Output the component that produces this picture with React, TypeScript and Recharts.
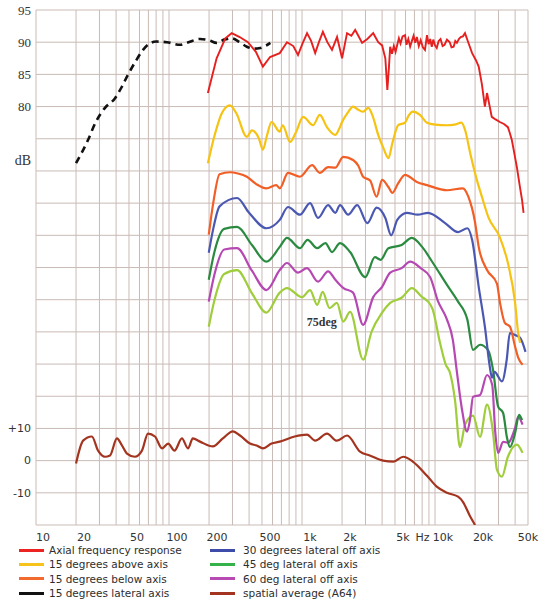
import { LineChart, Line, XAxis, YAxis, CartesianGrid, Legend, ReferenceDot } from 'recharts';

type Pt = [number, number]; // [Hz, dB]

const axial: Pt[] = [
  [196, 82.1], [228, 87.5], [265, 90.6], [296, 91.4], [340, 90.8], [392, 90.0], [450, 88.5],
  [508, 86.2], [575, 87.7], [680, 88.3], [771, 90.0], [860, 89.4], [933, 88.0], [1010, 89.8],
  [1091, 91.4], [1170, 90.2], [1256, 88.3], [1340, 90.0], [1435, 91.6], [1550, 90.0], [1680, 88.8],
  [1834, 90.8], [2000, 87.5], [2180, 91.4], [2350, 91.0], [2510, 91.9], [2650, 91.0], [2830, 89.9],
  [3100, 90.5], [3430, 91.4], [3740, 90.0], [4000, 89.5], [4230, 87.5], [4380, 82.6], [4500, 86.0],
  [4600, 89.3], [4750, 88.2], [4900, 89.4], [5050, 88.5], [5200, 89.6], [5350, 90.6], [5500, 89.8],
  [5700, 90.9], [5950, 91.1], [6100, 89.6], [6300, 90.5], [6500, 89.3], [6700, 90.2], [6900, 91.0],
  [7100, 89.9], [7300, 90.8], [7550, 89.4], [7800, 90.3], [8100, 89.2], [8400, 88.8], [8700, 91.1],
  [8950, 89.7], [9200, 90.5], [9450, 89.3], [9700, 90.4], [10000, 89.5], [10300, 89.1], [10650, 90.2],
  [11000, 90.5], [11400, 89.4], [11800, 89.6], [12300, 90.4], [12900, 90.0], [13300, 89.2],
  [13800, 89.3], [14200, 90.2], [14600, 89.9], [15100, 90.5], [15600, 90.8], [16200, 90.9],
  [16800, 91.4], [17900, 89.8], [19000, 88.3], [20300, 87.2], [21300, 86.2], [22500, 83.5],
  [23700, 80.0], [24600, 82.1], [26700, 78.4], [28500, 78.0], [30700, 77.6], [33000, 77.3],
  [35300, 76.8], [36500, 75.9], [37800, 74.8], [39000, 73.3], [41300, 70.5], [43500, 67.5],
  [45100, 65.5], [46300, 63.5],
];

const above15: Pt[] = [
  [196, 71.2], [220, 75.5], [250, 79.0], [287, 80.2], [320, 79.0], [385, 75.3], [420, 76.3],
  [440, 76.1], [475, 75.0], [508, 73.3], [545, 75.5], [590, 77.6], [680, 76.1], [715, 77.1],
  [814, 74.5], [900, 76.0], [1020, 78.4], [1210, 77.1], [1360, 78.7], [1540, 76.8], [1780, 75.6],
  [1900, 76.5], [2000, 77.6], [2200, 79.0], [2420, 80.0], [2650, 79.5], [2880, 79.2], [3150, 79.8],
  [3400, 78.5], [3740, 75.6], [4100, 73.5], [4460, 72.0], [4800, 74.5], [5290, 77.1], [5950, 77.5],
  [6300, 78.5], [6800, 79.2], [7700, 78.7], [8700, 77.5], [10000, 77.2], [12300, 77.1],
  [14000, 77.2], [15800, 77.5], [16800, 76.4], [18500, 72.5], [20500, 68.8], [22500, 66.0],
  [25300, 62.7], [30700, 59.7], [35300, 55.7], [40000, 49.5], [42200, 44.8], [43600, 43.3],
];

const below15: Pt[] = [
  [199, 60.1], [215, 65.0], [240, 69.5], [287, 69.8], [330, 69.6], [385, 69.1], [450, 68.0],
  [540, 67.3], [640, 67.8], [680, 67.3], [785, 69.7], [965, 69.1], [1190, 70.9], [1360, 69.7],
  [1570, 70.6], [1780, 70.5], [2040, 72.2], [2420, 71.7], [2650, 70.8], [2880, 69.1], [3250, 68.5],
  [3640, 66.0], [4000, 68.6], [4460, 67.5], [4780, 66.6], [5290, 68.1], [5950, 69.4], [7300, 68.3],
  [8700, 67.8], [12300, 67.0], [16200, 67.3], [17800, 66.0], [20000, 62.0], [21300, 58.2],
  [24600, 54.6], [29200, 52.5], [30800, 49.5], [33500, 46.4], [36600, 45.8], [40000, 42.7],
  [42200, 41.0], [45500, 39.9],
];

const lateral15: Pt[] = [
  [20, 71.2], [24.6, 74.8], [28, 77.5], [33, 79.8], [39.3, 81.3], [44, 83.0], [49, 84.9],
  [56, 87.0], [63.8, 88.8], [69.5, 89.6], [80, 90.1], [96.6, 90.0], [121, 89.6], [140, 90.0],
  [171, 90.5], [200, 90.3], [228, 89.9], [260, 90.4], [296, 90.6], [340, 90.0], [385, 89.3],
  [430, 89.0], [485, 89.1], [578, 89.9],
];

const off30: Pt[] = [
  [199, 57.3], [215, 61.0], [240, 64.5], [325, 65.8], [400, 63.5], [540, 61.1], [680, 62.4],
  [785, 64.4], [965, 63.2], [1150, 65.0], [1320, 62.7], [1570, 64.7], [1780, 63.5], [1930, 64.7],
  [2220, 63.2], [2600, 64.7], [3100, 61.9], [3640, 64.3], [4230, 62.7], [4680, 60.0], [5200, 62.4],
  [6140, 63.5], [7400, 63.2], [8870, 63.5], [11900, 61.9], [14900, 60.5], [17500, 61.1],
  [19000, 59.3], [21300, 52.0], [23700, 45.8], [25800, 39.6], [26800, 37.9], [28000, 38.8],
  [31800, 37.3], [34600, 40.7], [36500, 44.8], [40000, 44.5], [43600, 44.1], [47900, 41.9],
];

const off45: Pt[] = [
  [199, 53.1], [220, 57.5], [260, 61.0], [325, 61.3], [420, 58.5], [540, 55.9], [680, 58.2],
  [771, 59.6], [965, 58.0], [1100, 59.3], [1300, 58.0], [1500, 58.8], [1680, 57.4], [1930, 58.8],
  [2300, 57.4], [2990, 53.5], [3530, 56.6], [3900, 56.2], [4460, 58.0], [5610, 58.5], [6700, 59.6],
  [8000, 58.2], [9650, 55.7], [12300, 52.3], [14900, 49.7], [17500, 46.9], [19300, 42.2],
  [21800, 43.0], [25000, 42.2], [27300, 39.1], [29800, 33.4], [32500, 32.4], [34800, 28.5],
  [36600, 27.1], [40000, 29.3], [42800, 32.1], [45100, 31.3],
];

const off60: Pt[] = [
  [199, 49.7], [220, 54.0], [260, 57.8], [325, 58.0], [420, 54.5], [540, 51.5], [680, 54.6],
  [771, 55.7], [933, 54.2], [1090, 54.9], [1320, 52.8], [1570, 54.4], [1780, 53.1], [2050, 51.8],
  [2420, 51.1], [2880, 46.1], [3430, 50.4], [4000, 52.0], [4600, 54.2], [5610, 54.9], [6500, 55.9],
  [7800, 54.9], [9200, 53.5], [10500, 49.8], [12300, 46.9], [13600, 43.8], [14640, 38.6],
  [15960, 32.9], [17400, 29.5], [18300, 31.3], [19300, 34.9], [21800, 35.2], [24600, 38.3],
  [26900, 36.8], [28400, 29.3], [29800, 26.2], [32500, 27.9], [35300, 27.8], [40000, 30.1],
  [42200, 31.8], [45500, 30.6],
];

const off75: Pt[] = [
  [199, 45.8], [220, 50.0], [260, 54.0], [325, 54.6], [420, 51.0], [540, 48.0], [680, 51.1],
  [771, 51.8], [1000, 50.4], [1150, 51.5], [1300, 49.2], [1430, 51.2], [1610, 48.7], [1830, 49.5],
  [2040, 46.6], [2300, 48.1], [2880, 40.7], [3330, 45.0], [4000, 48.0], [4600, 49.5], [5610, 50.3],
  [6700, 51.8], [8000, 50.4], [8870, 49.7], [9600, 48.5], [10900, 43.3], [12000, 40.0],
  [12970, 38.6], [14130, 34.4], [15400, 27.1], [16800, 30.6], [19300, 32.0], [21800, 28.7],
  [24600, 33.7], [27300, 29.3], [29200, 23.6], [31800, 22.5], [35300, 25.6], [41300, 27.5],
  [45500, 26.2],
];

// relative dB, read on the lower (+10 / 0 / -10) scale
const spatialAvg: Pt[] = [
  [20, -0.9], [22.6, 6.2], [26.3, 7.5], [29.3, 3.1], [33, 1.2], [36, 1.6], [40.6, 6.9], [44.3, 4.7],
  [48.3, 2.2], [55.4, 1.2], [62.6, 3.1], [69.5, 8.4], [78.4, 7.5], [88.6, 3.8], [98.5, 5.3],
  [110, 3.1], [125, 6.9], [139, 3.8], [151, 6.9], [171, 5.9], [214, 4.4], [254, 6.9], [302, 9.1],
  [342, 7.8], [406, 5.3], [456, 4.7], [508, 3.8], [590, 5.3], [680, 5.9], [880, 7.5], [1090, 8.1],
  [1256, 6.2], [1540, 8.4], [1830, 6.2], [2180, 7.8], [2730, 2.8], [3230, 1.6], [4070, 0],
  [4870, -0.3], [5770, 1.2], [6800, -0.3], [8700, -4.7], [10300, -8.1], [12300, -10],
  [14900, -11.2], [16200, -12.8], [18300, -17.2], [20000, -20],
];

const freqTicks = [10, 20, 50, 100, 200, 500, 1000, 2000, 5000, 7000, 10000, 20000, 50000];
const freqLabels = ['10', '20', '50', '100', '200', '500', '1k', '2k', '5k', 'Hz', '10k', '20k', '50k'];
const levelTicks = [95, 90, 85, 80, 71.7, 30, 25, 20];
const levelLabels = ['95', '90', '85', '80', 'dB', '+10', '0', '-10'];
const gridLevels = [15, 20, 25, 30, 35, 40, 45, 50, 55, 60, 65, 70, 75, 80, 85, 90, 95];

const gridFreqs: number[] = [];
for (let d = 10; d <= 10000; d *= 10) {
  for (let m = 1; m <= 9; m++) if (d * m <= 50000) gridFreqs.push(d * m);
}

const toPts = (s: Pt[]) => s.map(([f, v]) => ({ f, v }));
// lower scale: 0 dB sits on the 25 line, 10 dB per grid step
const toLower = (s: Pt[]) => s.map(([f, v]) => ({ f, v: 25 + v / 2 }));

const legendItems = [
  { name: 'Axial frequency response', color: '#ec2323' },
  { name: '15 degrees above axis', color: '#f5c31a' },
  { name: '15 degrees below axis', color: '#f26a2e' },
  { name: '15 degrees lateral axis', color: '#111111' },
  { name: '30 degrees lateral off axis', color: '#3c4ca8' },
  { name: '45 deg lateral off axis', color: '#35b24a' },
  { name: '60 deg lateral off axis', color: '#b84ab4' },
  { name: 'spatial average (A64)', color: '#a3341f' },
];

const XTick = (props: any) => {
  const { x, y, payload } = props;
  const i = freqTicks.indexOf(payload.value);
  const dx = payload.value === 50000 ? 0 : payload.value === 10 ? 7 : 8;
  return (
    <text x={x + dx} y={y} dy="0.71em" textAnchor="middle" fontFamily="DejaVu Sans" fontSize={11} fill="#333">
      {freqLabels[i]}
    </text>
  );
};

const YTick = (props: any) => {
  const { x, y, payload } = props;
  const i = levelTicks.indexOf(payload.value);
  const upper = payload.value > 40;
  return (
    <text
      x={x}
      y={y}
      dy="0.35em"
      textAnchor="end"
      fontFamily={upper ? 'Liberation Serif' : 'DejaVu Sans'}
      fontSize={upper ? (payload.value === 71.7 ? 14 : 13) : 11}
      fill="#333"
    >
      {levelLabels[i]}
    </text>
  );
};

const LegendBox = () => (
  <div style={{ position: 'relative', width: 553, height: 57, fontFamily: 'DejaVu Sans', fontSize: 10.5, color: '#2e2e2e' }}>
    {legendItems.map((it, i) => {
      const col = i < 4 ? 0 : 1;
      const row = i % 4;
      return (
        <div
          key={it.name}
          style={{ position: 'absolute', left: col ? 210 : 19, top: row * 14.4, height: 14, display: 'flex', alignItems: 'center', whiteSpace: 'nowrap' }}
        >
          <span style={{ display: 'inline-block', width: 25, height: 3, background: it.color, marginRight: col ? 8 : 5 }} />
          <span>{it.name}</span>
        </div>
      );
    })}
  </div>
);

export default function App() {
  return (
    <div style={{ position: 'absolute', left: 0, top: 0, width: 553, height: 600, background: '#fff' }}>
      <LineChart width={553} height={600} margin={{ top: 10, right: 25, left: 0, bottom: 0 }}>
        <CartesianGrid stroke="#c9bbb6" horizontalValues={gridLevels} verticalValues={gridFreqs} />
        <XAxis
          dataKey="f"
          type="number"
          scale="log"
          domain={[10, 50000]}
          allowDataOverflow
          ticks={freqTicks}
          tick={<XTick />}
          axisLine={false}
          tickLine={false}
          height={18}
          interval={0}
        />
        <YAxis
          type="number"
          domain={[15, 95]}
          allowDataOverflow
          ticks={levelTicks}
          tick={<YTick />}
          axisLine={false}
          tickLine={false}
          tickSize={3}
          tickMargin={2}
          width={36}
          interval={0}
        />
        <Legend verticalAlign="bottom" height={57} content={<LegendBox />} wrapperStyle={{ left: 0, width: 553 }} />
        <Line data={toLower(spatialAvg)} dataKey="v" type="monotone" stroke="#a3341f" strokeWidth={2.2} dot={false} isAnimationActive={false} />
        <Line data={toPts(off75)} dataKey="v" type="monotone" stroke="#9fcd3b" strokeWidth={2.2} dot={false} isAnimationActive={false} />
        <Line data={toPts(off60)} dataKey="v" type="monotone" stroke="#b548b2" strokeWidth={2.2} dot={false} isAnimationActive={false} />
        <Line data={toPts(off45)} dataKey="v" type="monotone" stroke="#2a8a3f" strokeWidth={2.2} dot={false} isAnimationActive={false} />
        <Line data={toPts(off30)} dataKey="v" type="monotone" stroke="#4b58b2" strokeWidth={2.2} dot={false} isAnimationActive={false} />
        <Line data={toPts(below15)} dataKey="v" type="monotone" stroke="#f15e26" strokeWidth={2.2} dot={false} isAnimationActive={false} />
        <Line data={toPts(above15)} dataKey="v" type="monotone" stroke="#f6c312" strokeWidth={2.2} dot={false} isAnimationActive={false} />
        <Line data={toPts(lateral15)} dataKey="v" type="monotone" stroke="#111" strokeWidth={2.6} strokeDasharray="7 5" dot={false} isAnimationActive={false} />
        <Line data={toPts(axial)} dataKey="v" type="linear" stroke="#e61f1f" strokeWidth={1.9} dot={false} isAnimationActive={false} />
        <ReferenceDot
          x={1410}
          y={46.6}
          r={0}
          fill="none"
          stroke="none"
          label={{ value: '75deg', position: 'center', fontFamily: 'Liberation Serif', fontSize: 12, fontWeight: 'bold', fill: '#333' }}
        />
      </LineChart>
    </div>
  );
}
